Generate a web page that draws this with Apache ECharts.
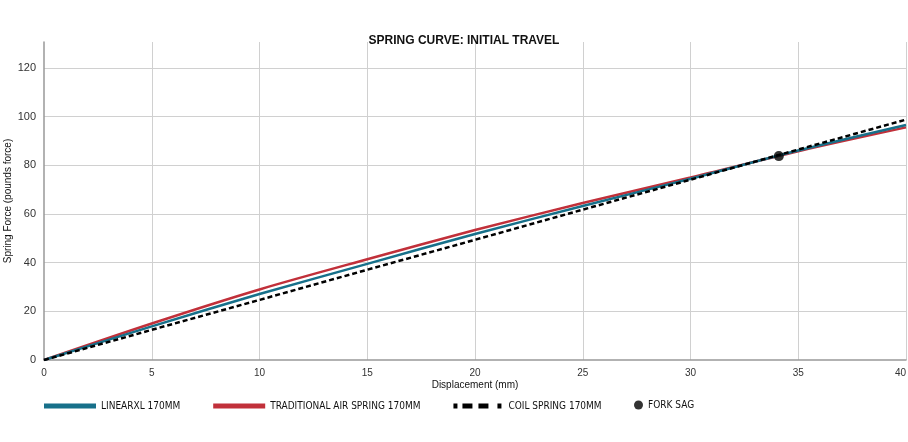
<!DOCTYPE html>
<html>
<head>
<meta charset="utf-8">
<title>Spring Curve</title>
<script src="https://cdn.jsdelivr.net/npm/echarts@6/dist/echarts.min.js"></script>
<style>
  html, body { margin: 0; padding: 0; background: #fff; }
  #chart { width: 908px; height: 442px; }
</style>
</head>
<body>
<div id="chart"></div>
<script>
// displacement (mm) sample points
const displacement = [0, 5, 10, 15, 20, 25, 30, 35, 40];
// spring force (lbf)
const linearXL = [0, 13.8, 27.1, 39.5, 51.8, 63.3, 74.5, 86.1, 96.6];
const traditionalAir = [0, 15.0, 29.0, 41.4, 53.4, 64.5, 75.0, 85.8, 95.6];
const coilSpring = [0, 12.4, 24.7, 37.1, 49.4, 61.8, 74.1, 86.5, 98.8];
const forkSag = [34.1, 83.8];

const yTicks = [0, 20, 40, 60, 80, 100, 120];

function pairs(xs, ys) {
  return xs.map((x, i) => [x, ys[i]]);
}

const chart = echarts.init(document.getElementById('chart'));

const legendFont = {
  color: '#111',
  fontSize: 10,
  fontFamily: '"Liberation Sans Narrow", "DejaVu Sans Condensed", sans-serif'
};

chart.setOption({
  animation: false,
  title: {
    text: 'SPRING CURVE: INITIAL TRAVEL',
    left: 464,
    top: 35,
    textAlign: 'center',
    padding: 0,
    textStyle: {
      fontSize: 12,
      fontWeight: 'bold',
      color: '#111',
      fontFamily: '"Liberation Sans Narrow", "Liberation Sans", sans-serif'
    }
  },
  grid: {
    left: 44,
    right: 2,
    top: 42,
    bottom: 82,
    outerBoundsMode: 'none'
  },
  legend: [
    {
      left: 44,
      top: 401,
      padding: 0,
      itemWidth: 52,
      itemHeight: 5,
      itemGap: 33,
      textStyle: legendFont,
      data: [
        { name: 'LINEARXL 170MM', icon: 'rect' },
        { name: 'TRADITIONAL AIR SPRING 170MM', icon: 'rect' },
        {
          name: 'COIL SPRING 170MM',
          icon: 'path://M0,0h4v5h-4z M9,0h10v5h-10z M25,0h10v5h-10z M44,0h4v5h-4z'
        }
      ]
    },
    {
      left: 634,
      top: 400,
      padding: 0,
      itemWidth: 9,
      itemHeight: 9,
      textStyle: legendFont,
      data: [{ name: 'FORK SAG', icon: 'circle' }]
    }
  ],
  xAxis: {
    type: 'value',
    min: 0,
    max: 40,
    interval: 5,
    name: 'Displacement (mm)',
    nameLocation: 'middle',
    nameGap: 20,
    nameMoveOverlap: false,
    nameTextStyle: { fontSize: 10, color: '#111' },
    axisLine: { lineStyle: { color: '#999', width: 1.5 } },
    axisTick: { show: false },
    axisLabel: { fontSize: 10, color: '#333', margin: 8, alignMaxLabel: 'right' },
    splitLine: { lineStyle: { color: '#d0d0d0' }, showMinLine: false }
  },
  yAxis: {
    type: 'value',
    min: 0,
    max: 130.7,
    interval: 20,
    name: 'Spring Force (pounds force)',
    nameLocation: 'middle',
    nameGap: 31,
    nameMoveOverlap: false,
    nameTextStyle: { fontSize: 10, color: '#111' },
    axisLine: { show: true, lineStyle: { color: '#999', width: 1.5 } },
    axisTick: { show: false },
    axisLabel: {
      fontSize: 11,
      color: '#333',
      margin: 8,
      showMaxLabel: false,
      formatter: v => (yTicks.indexOf(v) >= 0 ? String(v) : '')
    },
    splitLine: { lineStyle: { color: '#d0d0d0' }, showMinLine: false, showMaxLine: false }
  },
  series: [
    {
      name: 'LINEARXL 170MM',
      type: 'line',
      data: pairs(displacement, linearXL),
      smooth: 0.3,
      showSymbol: false,
      color: '#17708a',
      lineStyle: { width: 2.5, color: '#17708a' },
      z: 3
    },
    {
      name: 'TRADITIONAL AIR SPRING 170MM',
      type: 'line',
      data: pairs(displacement, traditionalAir),
      smooth: 0.3,
      showSymbol: false,
      color: '#c1303a',
      lineStyle: { width: 2.5, color: '#c1303a' },
      z: 2
    },
    {
      name: 'COIL SPRING 170MM',
      type: 'line',
      data: pairs(displacement, coilSpring),
      showSymbol: false,
      color: '#000',
      lineStyle: { width: 2.5, color: '#000', type: [5, 3] },
      z: 4
    },
    {
      name: 'FORK SAG',
      type: 'scatter',
      data: [forkSag],
      symbol: 'circle',
      symbolSize: 10,
      color: '#000',
      z: 5
    }
  ]
});
</script>
</body>
</html>
